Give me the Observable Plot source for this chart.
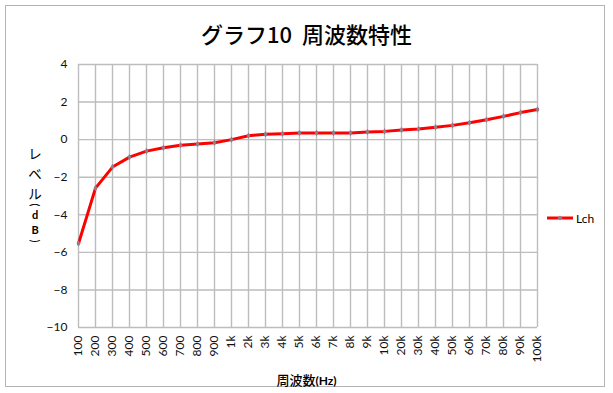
<!DOCTYPE html>
<html>
<head>
<meta charset="utf-8">
<script src="https://cdn.jsdelivr.net/npm/d3@7"></script>
<script src="https://cdn.jsdelivr.net/npm/@observablehq/plot@0.6"></script>
<style>
  html, body { margin: 0; padding: 0; background: #fff; }
  #wrap { position: relative; width: 613px; height: 393px; font-family: "Lato", "Noto Sans CJK JP", sans-serif; overflow: hidden; }
  #frame { position: absolute; left: 5px; top: 5px; width: 600px; height: 382px; border: 1.5px solid #b4b4b4; box-sizing: border-box; }
  #chart { position: absolute; left: 0; top: 0; }
  .abs { position: absolute; white-space: nowrap; color: #000; }
  #title { left: 0; width: 613px; text-align: center; top: 18px; font-size: 22px; font-weight: 500; font-family: "Noto Sans CJK JP", sans-serif; line-height: 30px; }
  #xlabel { left: 0; width: 613px; text-align: center; top: 371px; font-size: 13px; font-weight: 500; font-family: "Noto Sans CJK JP", sans-serif; line-height: 18px; }
  .yl { position: absolute; text-align: center; font-family: "Noto Sans CJK JP", sans-serif; color: #000; }
  #legend { left: 546px; top: 208px; font-size: 12px; }
</style>
</head>
<body>
<div id="wrap">
  <div id="frame"></div>
  <div id="chart"></div>
  <div id="title" class="abs">グラフ10&nbsp; 周波数特性</div>
  <div id="xlabel" class="abs">周波数<b style="font-family:Lato, sans-serif;font-size:12px">(Hz)</b></div>
  <div id="ylabel"></div>
  <div id="legend" class="abs"></div>
</div>
<script>
const title = "グラフ10  周波数特性";
const xTitle = "周波数(Hz)";
const seriesName = "Lch";
const frequencies = ["100","200","300","400","500","600","700","800","900",
  "1k","2k","3k","4k","5k","6k","7k","8k","9k",
  "10k","20k","30k","40k","50k","60k","70k","80k","90k","100k"];
const levels = [-5.53, -2.58, -1.46, -0.93, -0.61, -0.43, -0.30, -0.23, -0.16,
  0.00, 0.21, 0.29, 0.32, 0.36, 0.36, 0.36, 0.36, 0.41,
  0.44, 0.51, 0.57, 0.66, 0.76, 0.90, 1.06, 1.24, 1.44, 1.60];
const yTicks = [4, 2, 0, -2, -4, -6, -8, -10];
const yLabelChars = ["レ", "ベ", "ル", "(", "d", "B", ")"];

const data = frequencies.map((f, i) => ({freq: f, level: levels[i]}));
const gridColor = "#bdbdbd";

const chart = Plot.plot({
  width: 613,
  height: 393,
  marginLeft: 78,
  marginRight: 76,
  marginTop: 64,
  marginBottom: 66,
  style: {fontFamily: "Lato, 'Noto Sans CJK JP', sans-serif", fontSize: "12px", background: "transparent", color: "#111"},
  x: {type: "point", domain: frequencies, padding: 0, label: null},
  y: {domain: [-10, 4], label: null},
  marks: [
    Plot.ruleX(frequencies, {x: d => d, stroke: gridColor, strokeWidth: 1.4, strokeOpacity: 1}),
    Plot.ruleY(yTicks, {y: d => d, stroke: gridColor, strokeWidth: 1.4, strokeOpacity: 1}),
    Plot.axisY({ticks: yTicks, tickSize: 0, tickPadding: 11, label: null, fontSize: 12}),
    Plot.axisX({tickSize: 0, tickPadding: 8, tickRotate: -90, label: null, fontSize: 12}),
    Plot.line(data, {x: "freq", y: "level", stroke: "#ff0000", strokeWidth: 3, strokeLinejoin: "round"}),
    Plot.dot(data, {x: "freq", y: "level", symbol: "diamond", r: 2, fill: "#8a7f93", stroke: "none"})
  ]
});
document.getElementById("chart").appendChild(chart);

// y label, vertically stacked (Excel-style vertical text)
const ylab = document.getElementById("ylabel");
const yPos = [153, 173, 193, 205, 214, 229, 241];
const cx = 35;
yLabelChars.forEach((c, i) => {
  const s = document.createElement("div");
  s.className = "yl";
  s.textContent = c;
  const latin = /[A-Za-z]/.test(c);
  const paren = c === "(" || c === ")";
  let lh = 14, w = 20;
  if (latin) {
    s.style.fontSize = "11px"; s.style.fontWeight = "bold"; s.style.fontFamily = "Lato, sans-serif"; lh = 11;
  } else if (paren) {
    s.style.fontSize = "11px"; s.style.fontFamily = "Lato, sans-serif"; lh = 8; w = 8;
    s.style.transform = "rotate(90deg)";
  } else {
    s.style.fontSize = "13.5px";
  }
  s.style.width = w + "px";
  s.style.left = (cx - w / 2) + "px";
  s.style.lineHeight = lh + "px";
  s.style.height = lh + "px";
  s.style.top = (yPos[i] - lh / 2) + "px";
  ylab.appendChild(s);
});

// legend
const lg = document.getElementById("legend");
lg.innerHTML = `<svg width="30" height="20" style="vertical-align:middle"><line x1="1" x2="27" y1="10" y2="10" stroke="#ff0000" stroke-width="3"/><path d="M14,7.5 L16.5,10 L14,12.5 L11.5,10Z" fill="#8a7f93"/></svg><span style="vertical-align:middle">${seriesName}</span>`;
</script>
</body>
</html>
